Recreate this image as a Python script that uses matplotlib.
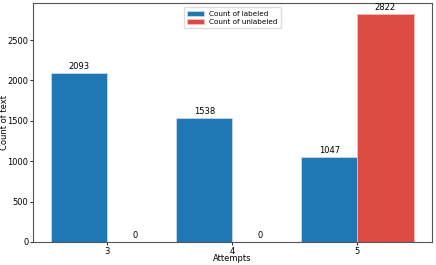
import numpy as np
import matplotlib
matplotlib.use("Agg")
import matplotlib.pyplot as plt

# ---------- Data ----------
attempts = [3, 4, 5]
labeled = [2093, 1538, 1047]
unlabeled = [0, 0, 2822]

BLUE = "#1f77b4"
RED = "#dc4c42"

fig, ax = plt.subplots(figsize=(4.36, 2.65), dpi=100)
x = np.array(attempts)
w = 0.45

b1 = ax.bar(x, labeled, width=-w, align="edge", color=BLUE,
            edgecolor="#cfe0ee", linewidth=0.5, label="Count of labeled")
b2 = ax.bar(x, unlabeled, width=w, align="edge", color=RED,
            edgecolor="#f3c4c0", linewidth=0.5, label="Count of unlabeled")

for bars in (b1, b2):
    for r in bars:
        h = r.get_height()
        ax.annotate(f"{h}", (r.get_x() + r.get_width() / 2, h),
                    xytext=(0, 1.5), textcoords="offset points",
                    ha="center", va="bottom", fontsize=6)

ax.set_xticks(x)
ax.set_xticklabels([str(a) for a in attempts])
ax.set_xlabel("Attempts", fontsize=6)
ax.set_ylabel("Count of text", fontsize=6)
ax.xaxis.set_label_coords(0.5, -0.052)
ax.yaxis.set_label_coords(-0.06, 0.5)
ax.tick_params(labelsize=6, length=2.5, width=0.6, pad=0.8)
for s in ax.spines.values():
    s.set_linewidth(0.8)
    s.set_color("#555555")

ax.legend(loc="upper center", fontsize=5.2, frameon=True, framealpha=1,
          edgecolor="#dddddd", handlelength=2.3, borderpad=0.45,
          labelspacing=0.3, bbox_to_anchor=(0.5, 0.995))

fig.subplots_adjust(left=0.076, right=0.99, top=0.99, bottom=0.087)
fig.savefig("out.png", dpi=100)
